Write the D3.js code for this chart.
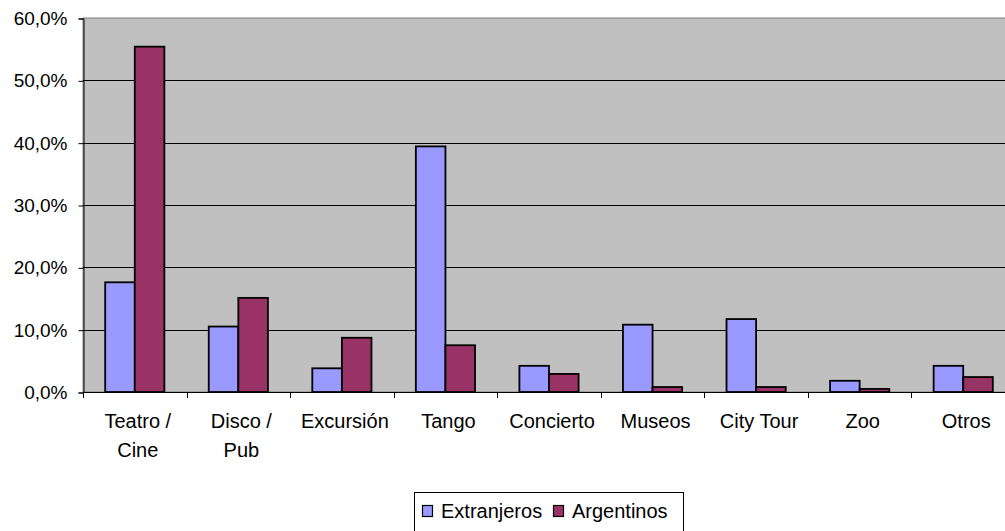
<!DOCTYPE html>
<html>
<head>
<meta charset="utf-8">
<script src="https://cdn.jsdelivr.net/npm/d3@7"></script>
<style>
body { margin: 0; background: #fff; }
text { font-family: "Liberation Sans", Arial, sans-serif; fill: #000; }
</style>
</head>
<body>
<div id="chart"></div>
<script>
// data
var categories = [["Teatro /", "Cine"], ["Disco /", "Pub"], ["Excursión"], ["Tango"], ["Concierto"], ["Museos"], ["City Tour"], ["Zoo"], ["Otros"]];
var seriesNames = ["Extranjeros", "Argentinos"];
var extranjeros = [17.6, 10.5, 3.8, 39.4, 4.2, 10.8, 11.7, 1.8, 4.2];
var argentinos = [55.4, 15.1, 8.7, 7.5, 2.9, 0.8, 0.8, 0.5, 2.4];
var yTicks = [0, 10, 20, 30, 40, 50, 60];

var width = 1005;
var height = 531;
var colors = ["#9999ff", "#993366"];
var plotLeft = 83, plotRight = 1015, plotTop = 18, plotBottom = 392;

var svg = d3.select("#chart").append("svg")
    .attr("width", width)
    .attr("height", height);

var x = d3.scaleBand()
    .domain(d3.range(categories.length))
    .range([plotLeft, plotRight]);

var y = d3.scaleLinear()
    .domain([0, 60])
    .range([plotBottom, plotTop]);

// plot background
svg.append("rect")
    .attr("x", plotLeft).attr("y", plotTop)
    .attr("width", plotRight - plotLeft).attr("height", plotBottom - plotTop)
    .style("fill", "#c0c0c0")
    .style("stroke", "#808080")
    .style("stroke-width", 1);

// gridlines
svg.append("g").selectAll("line")
    .data(yTicks.slice(1, -1))
    .enter().append("line")
    .attr("x1", plotLeft).attr("x2", plotRight)
    .attr("y1", d => Math.round(y(d)) + 0.5)
    .attr("y2", d => Math.round(y(d)) + 0.5)
    .style("stroke", "#000");

// y axis
var yAxis = d3.axisLeft(y)
    .tickValues(yTicks)
    .tickSize(5)
    .tickPadding(11)
    .tickFormat(d => d.toFixed(1).replace(".", ",") + "%");

var yAxisGroup = svg.append("g")
    .attr("transform", "translate(" + (plotLeft + 0.5) + ",0.5)")
    .call(yAxis);
yAxisGroup.select(".domain").style("stroke", "#000");
yAxisGroup.selectAll("line").style("stroke", "#000");
yAxisGroup.selectAll("text").style("font-size", "19px").style("font-family", "'Liberation Sans', Arial, sans-serif");

// bars
var bw = x.bandwidth() / 3.5;
var series = [extranjeros, argentinos];
series.forEach(function(vals, s) {
    svg.append("g").selectAll("rect")
        .data(vals)
        .enter()
        .append("rect")
        .attr("x", (d, i) => x(i) + bw * 0.75 + s * bw)
        .attr("y", d => y(d))
        .attr("width", bw)
        .attr("height", d => plotBottom - y(d))
        .style("fill", colors[s])
        .style("stroke", "#000")
        .style("stroke-width", 1.8);
});

// x axis line + ticks
svg.append("line")
    .attr("x1", plotLeft).attr("x2", plotRight)
    .attr("y1", plotBottom + 0.5).attr("y2", plotBottom + 0.5)
    .style("stroke", "#000");

svg.append("g").selectAll("line")
    .data(d3.range(categories.length + 1))
    .enter().append("line")
    .attr("x1", d => Math.round(plotLeft + d * x.step()) + 0.5)
    .attr("x2", d => Math.round(plotLeft + d * x.step()) + 0.5)
    .attr("y1", plotBottom).attr("y2", plotBottom + 6)
    .style("stroke", "#000");

// category labels
var labels = svg.append("g").selectAll("text")
    .data(categories)
    .enter().append("text")
    .attr("text-anchor", "middle")
    .style("font-size", "20px")
    .attr("transform", (d, i) => "translate(" + (x(i) + x.bandwidth() / 2 + 3) + ",428)");
labels.selectAll("tspan")
    .data(d => d)
    .enter().append("tspan")
    .attr("x", 0)
    .attr("y", (d, i) => i * 29)
    .text(d => d);

// legend
var legend = svg.append("g");
legend.append("rect")
    .attr("x", 414.5).attr("y", 492.5)
    .attr("width", 269).attr("height", 45)
    .style("fill", "#fff")
    .style("stroke", "#000");

var legendPos = [[422, 442], [553, 573]];
seriesNames.forEach(function(name, s) {
    legend.append("rect")
        .attr("x", legendPos[s][0] + 0.5).attr("y", 505.5)
        .attr("width", 10).attr("height", 11)
        .style("fill", colors[s])
        .style("stroke", "#000")
        .style("stroke-width", 1.2);
    legend.append("text")
        .attr("x", legendPos[s][1] - 1).attr("y", 518)
        .style("font-size", "20px")
        .text(name);
});
</script>
</body>
</html>
